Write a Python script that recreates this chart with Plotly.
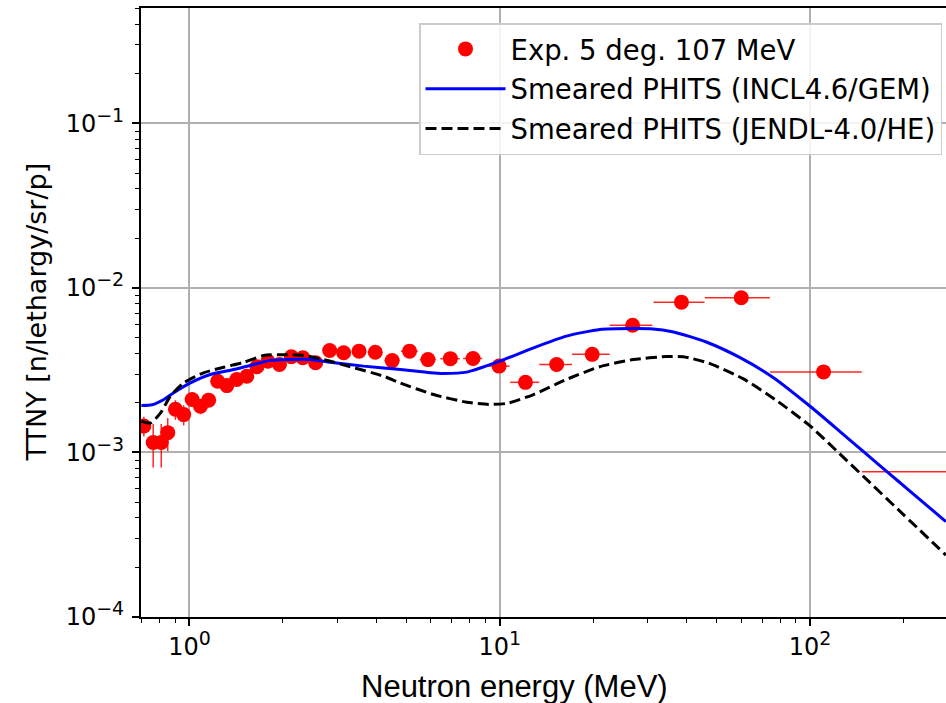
import plotly.graph_objects as go

# ---------------- data ----------------
exp_energy = [0.713, 0.764, 0.811, 0.851, 0.901, 0.958, 1.02, 1.085, 1.153, 1.233,
              1.32, 1.42, 1.53, 1.65, 1.79, 1.95, 2.13, 2.32, 2.55, 2.83,
              3.14, 3.52, 3.97, 4.50, 5.12, 5.87, 6.93, 8.20, 9.95, 12.1,
              15.25, 19.85, 26.8, 38.5, 60.0, 110.5, 300.0]
exp_ttny = [1.45e-3, 1.15e-3, 1.15e-3, 1.32e-3, 1.83e-3, 1.70e-3, 2.10e-3, 1.91e-3, 2.08e-3, 2.71e-3,
            2.55e-3, 2.78e-3, 2.91e-3, 3.32e-3, 3.59e-3, 3.43e-3, 3.82e-3, 3.77e-3, 3.51e-3, 4.17e-3,
            4.04e-3, 4.13e-3, 4.07e-3, 3.62e-3, 4.13e-3, 3.67e-3, 3.72e-3, 3.73e-3, 3.35e-3, 2.67e-3,
            3.43e-3, 3.95e-3, 5.94e-3, 8.20e-3, 8.72e-3, 3.09e-3, 7.63e-4]
exp_xerr = [0.02, 0.02, 0.02, 0.02, 0.02, 0.03, 0.03, 0.03, 0.03, 0.04,
            0.04, 0.04, 0.05, 0.05, 0.06, 0.06, 0.07, 0.08, 0.09, 0.10,
            0.12, 0.15, 0.2, 0.25, 0.32, 0.35, 0.5, 0.58, 0.8, 1.3,
            1.85, 2.75, 4.2, 7.2, 14.2, 36.2, 153.0]
exp_yerr = [0.20e-3, 0.34e-3, 0.34e-3, 0.30e-3, 0.25e-3, 0.24e-3, 0.20e-3, 0.20e-3, 0.15e-3, 0.12e-3,
            0.10e-3, 0.10e-3, 0.10e-3, 0.10e-3, 0.10e-3, 0.10e-3, 0.10e-3, 0.10e-3, 0.10e-3, 0.10e-3,
            0.10e-3, 0.10e-3, 0.10e-3, 0.10e-3, 0.10e-3, 0.10e-3, 0.10e-3, 0.10e-3, 0.10e-3, 0.08e-3,
            0.10e-3, 0.10e-3, 0.15e-3, 0.20e-3, 0.20e-3, 0.08e-3, 0.02e-3]

incl_energy = [0.70, 0.758, 0.827, 0.89, 1.007, 1.168, 1.355, 1.57, 1.82, 2.11,
               2.45, 2.84, 3.64, 4.7, 5.97, 6.58, 7.83, 10.0, 12.85, 16.4,
               21.0, 26.9, 30.6, 36.3, 46.5, 59.5, 76.2, 100.0,
               124.9, 150.0, 180.0, 207.0, 274.0]
incl_ttny = [1.93e-3, 1.95e-3, 2.10e-3, 2.31e-3, 2.65e-3, 2.98e-3, 3.16e-3, 3.38e-3, 3.63e-3, 3.68e-3,
             3.68e-3, 3.54e-3, 3.35e-3, 3.21e-3, 3.05e-3, 3.02e-3, 3.08e-3, 3.59e-3, 4.33e-3, 5.10e-3,
             5.60e-3, 5.67e-3, 5.65e-3, 5.40e-3, 4.68e-3, 3.77e-3, 2.85e-3, 1.91e-3,
             1.34e-3, 9.97e-4, 7.45e-4, 5.95e-4, 3.80e-4]

jendl_energy = [0.70, 0.749, 0.807, 0.868, 0.958, 1.11, 1.29, 1.50, 1.735, 2.01,
                2.33, 2.71, 3.30, 4.22, 4.77, 6.12, 7.83, 9.22, 10.55, 12.85,
                16.4, 21.0, 26.9, 34.5, 39.0, 47.0, 61.0, 78.0, 100.0, 122.0,
                150.0, 200.0, 274.0]
jendl_ttny = [1.55e-3, 1.51e-3, 1.74e-3, 2.20e-3, 2.65e-3, 3.05e-3, 3.30e-3, 3.54e-3, 3.89e-3, 3.93e-3,
              3.89e-3, 3.67e-3, 3.32e-3, 2.91e-3, 2.65e-3, 2.25e-3, 2.02e-3, 1.96e-3, 1.99e-3, 2.25e-3,
              2.78e-3, 3.32e-3, 3.67e-3, 3.83e-3, 3.82e-3, 3.50e-3, 2.80e-3, 2.07e-3, 1.45e-3, 1.02e-3,
              7.03e-4, 4.19e-4, 2.38e-4]

SUP = '<sup><span style="font-size:19px">{}</span></sup>'
x_tickvals = [1, 10, 100]
x_ticktext = ["10" + SUP.format("0"), "10" + SUP.format("1"), "10" + SUP.format("2")]
y_tickvals = [1e-4, 1e-3, 1e-2, 1e-1]
y_ticktext = ["10" + SUP.format("\u22124"), "10" + SUP.format("\u22123"),
              "10" + SUP.format("\u22122"), "10" + SUP.format("\u22121")]

x_minor = [m * 10 ** d for d in range(-1, 3) for m in range(2, 10)]
y_minor = [m * 10 ** d for d in range(-5, 0) for m in range(2, 10)]

# ---------------- figure ----------------
FONT = "DejaVu Sans"
fig = go.Figure()

fig.add_trace(go.Scatter(
    x=exp_energy, y=exp_ttny, mode="markers", name="Exp. 5 deg. 107 MeV",
    legendgroup="a",
    marker=dict(color="red", size=15, symbol="circle"),
    error_x=dict(type="data", array=exp_xerr, color="rgba(255,0,0,0.85)", thickness=1.5, width=0),
    error_y=dict(type="data", array=exp_yerr, color="rgba(255,0,0,0.85)", thickness=1.5, width=0),
))
fig.add_trace(go.Scatter(
    x=incl_energy, y=incl_ttny, mode="lines", name="Smeared PHITS (INCL4.6/GEM)",
    legendgroup="b",
    line=dict(color="blue", width=3, shape="spline", smoothing=0.6),
))
fig.add_trace(go.Scatter(
    x=jendl_energy, y=jendl_ttny, mode="lines", name="Smeared PHITS (JENDL-4.0/HE)",
    legendgroup="c",
    line=dict(color="black", width=3, dash="11px,5px", shape="spline", smoothing=0.6),
))

L, T, B = 141, 8, 86
W, H = 946, 703
pw = W - L
ph = H - T - B

fig.update_layout(
    width=W, height=H,
    margin=dict(l=L, r=0, t=T, b=B, pad=0),
    paper_bgcolor="white", plot_bgcolor="white",
    font=dict(family=FONT, size=24, color="black"),
    showlegend=True,
    legend=dict(
        x=(942 - L) / pw, y=1 - (23 - T) / ph, xanchor="right", yanchor="top",
        bgcolor="rgba(255,255,255,0.85)", bordercolor="#cccccc", borderwidth=1.5,
        font=dict(family=FONT, size=27.5, color="black"),
        traceorder="grouped", tracegroupgap=1, itemwidth=80,
    ),
    xaxis=dict(
        type="log", range=[-0.1562, 2.438],
        tickmode="array", tickvals=x_tickvals, ticktext=x_ticktext,
        ticks="outside", ticklen=7, tickwidth=1.5, tickcolor="black",
        tickfont=dict(family=FONT, size=24, color="black"),
        showgrid=True, gridcolor="#b0b0b0", gridwidth=1.6,
        showline=True, linecolor="black", linewidth=2, mirror=True,
        zeroline=False,
        minor=dict(tickmode="array", tickvals=x_minor, ticks="outside", ticklen=4,
                   tickwidth=1.2, tickcolor="black", showgrid=False),
    ),
    yaxis=dict(
        type="log", range=[-4, -0.298],
        tickmode="array", tickvals=y_tickvals, ticktext=y_ticktext,
        ticks="outside", ticklen=7, tickwidth=1.5, tickcolor="black",
        tickfont=dict(family=FONT, size=24, color="black"),
        ticklabelstandoff=3,
        showgrid=True, gridcolor="#b0b0b0", gridwidth=1.6,
        showline=True, linecolor="black", linewidth=2, mirror=False,
        zeroline=False,
        minor=dict(tickmode="array", tickvals=y_minor, ticks="outside", ticklen=4,
                   tickwidth=1.2, tickcolor="black", showgrid=False),
    ),
    annotations=[
        dict(text="Neutron energy (MeV)", xref="paper", yref="paper",
             x=(514 - L) / pw, y=-(686 - T - ph) / ph, xanchor="center", yanchor="middle",
             showarrow=False, font=dict(family="Liberation Sans", size=31, color="black")),
        dict(text="TTNY [n/lethargy/sr/p]", xref="paper", yref="paper",
             x=-(L - 36) / pw, y=0.5, xanchor="center", yanchor="middle", textangle=-90,
             showarrow=False, font=dict(family=FONT, size=27, color="black")),
    ],
)

fig.write_html(
    "out.html",
    config={"displayModeBar": False},
    post_script="document.body.style.margin='0';document.body.style.overflow='hidden';",
)
